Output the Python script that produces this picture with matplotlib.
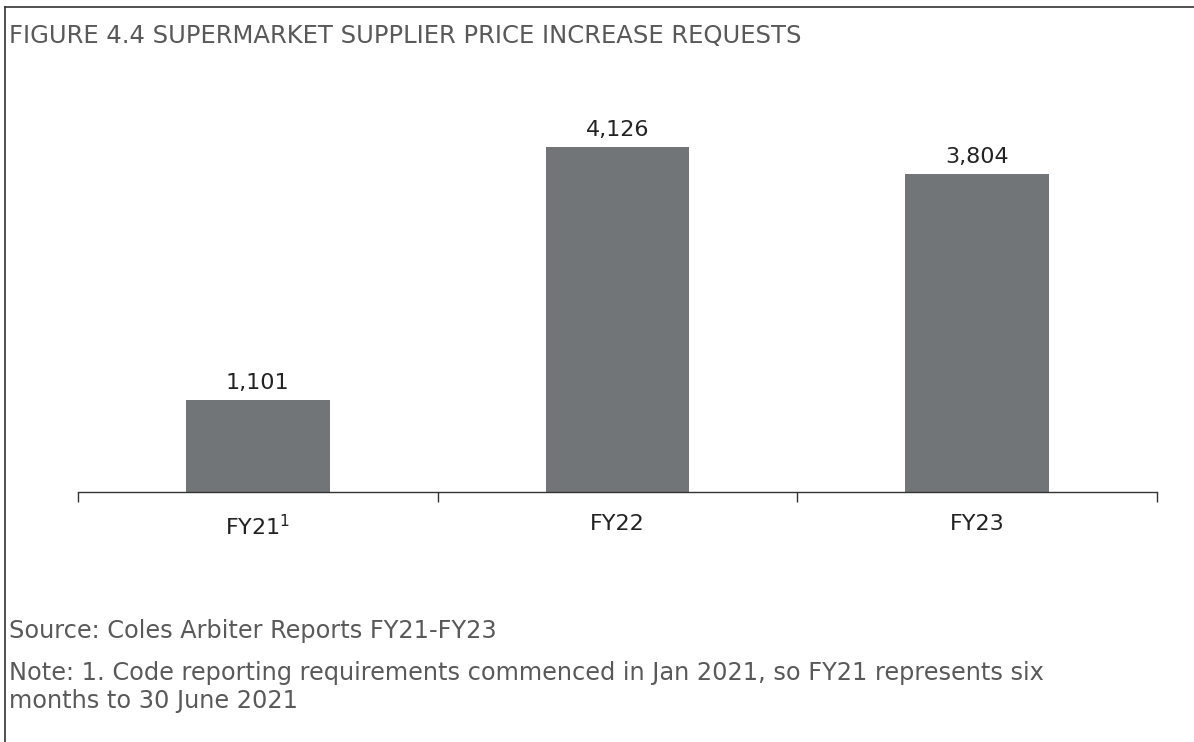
import matplotlib
matplotlib.use("Agg")
import matplotlib.pyplot as plt
from matplotlib.lines import Line2D

categories = ["FY21$^{1}$", "FY22", "FY23"]
values = [1101, 4126, 3804]
value_labels = ["1,101", "4,126", "3,804"]

title = "FIGURE 4.4 SUPERMARKET SUPPLIER PRICE INCREASE REQUESTS"
source = "Source: Coles Arbiter Reports FY21-FY23"
note_lines = ["Note: 1. Code reporting requirements commenced in Jan 2021, so FY21 represents six",
              "months to 30 June 2021"]

plt.rcParams['font.family'] = ['DejaVu Sans']
W, H = 1194, 742
fig = plt.figure(figsize=(W/100, H/100), dpi=100)

# frame lines
fig.add_artist(Line2D([5/W, 1], [1-7/H, 1-7/H], color='#333333', lw=1.2, transform=fig.transFigure))
fig.add_artist(Line2D([5/W, 5/W], [0, 1-7/H], color='#333333', lw=1.2, transform=fig.transFigure))

ax_top_px = 100
ax_bot_px = 492
ax = fig.add_axes([78/W, 1-ax_bot_px/H, (1157-78)/W, (ax_bot_px-ax_top_px)/H])
px_per_unit = 345/4126
ymax = (ax_bot_px-ax_top_px)/px_per_unit

x = range(len(categories))
ax.bar(x, values, width=0.4, color='#727577')
for xi, v, lab in zip(x, values, value_labels):
    ax.annotate(lab, (xi, v), xytext=(0, 5), textcoords='offset points',
                ha='center', va='bottom', fontsize=16, color='#222222')

ax.set_xlim(-0.5, 2.5)
ax.set_ylim(0, ymax)
ax.set_xticks(list(x))
ax.set_xticklabels(categories, fontsize=16, color='#222222')
ax.set_xticks([-0.5, 0.5, 1.5, 2.5], minor=True)
ax.tick_params(axis='x', which='major', length=0, pad=16)
ax.tick_params(axis='x', which='minor', length=7, width=1, color='#333333')
ax.set_yticks([])
for s in ['top', 'right', 'left']:
    ax.spines[s].set_visible(False)
ax.spines['bottom'].set_color('#333333')
ax.spines['bottom'].set_linewidth(1)
ax.patch.set_alpha(0)

fig.text(9/W, 1-36/H, title, fontsize=17.5, color='#595959', va='center', ha='left')
fig.text(9/W, 1-631/H, source, fontsize=17.3, color='#595959', va='center', ha='left')
fig.text(9/W, 1-673/H, note_lines[0], fontsize=17.3, color='#595959', va='center', ha='left')
fig.text(9/W, 1-701/H, note_lines[1], fontsize=17.3, color='#595959', va='center', ha='left')

fig.savefig("out.png", dpi=100)
